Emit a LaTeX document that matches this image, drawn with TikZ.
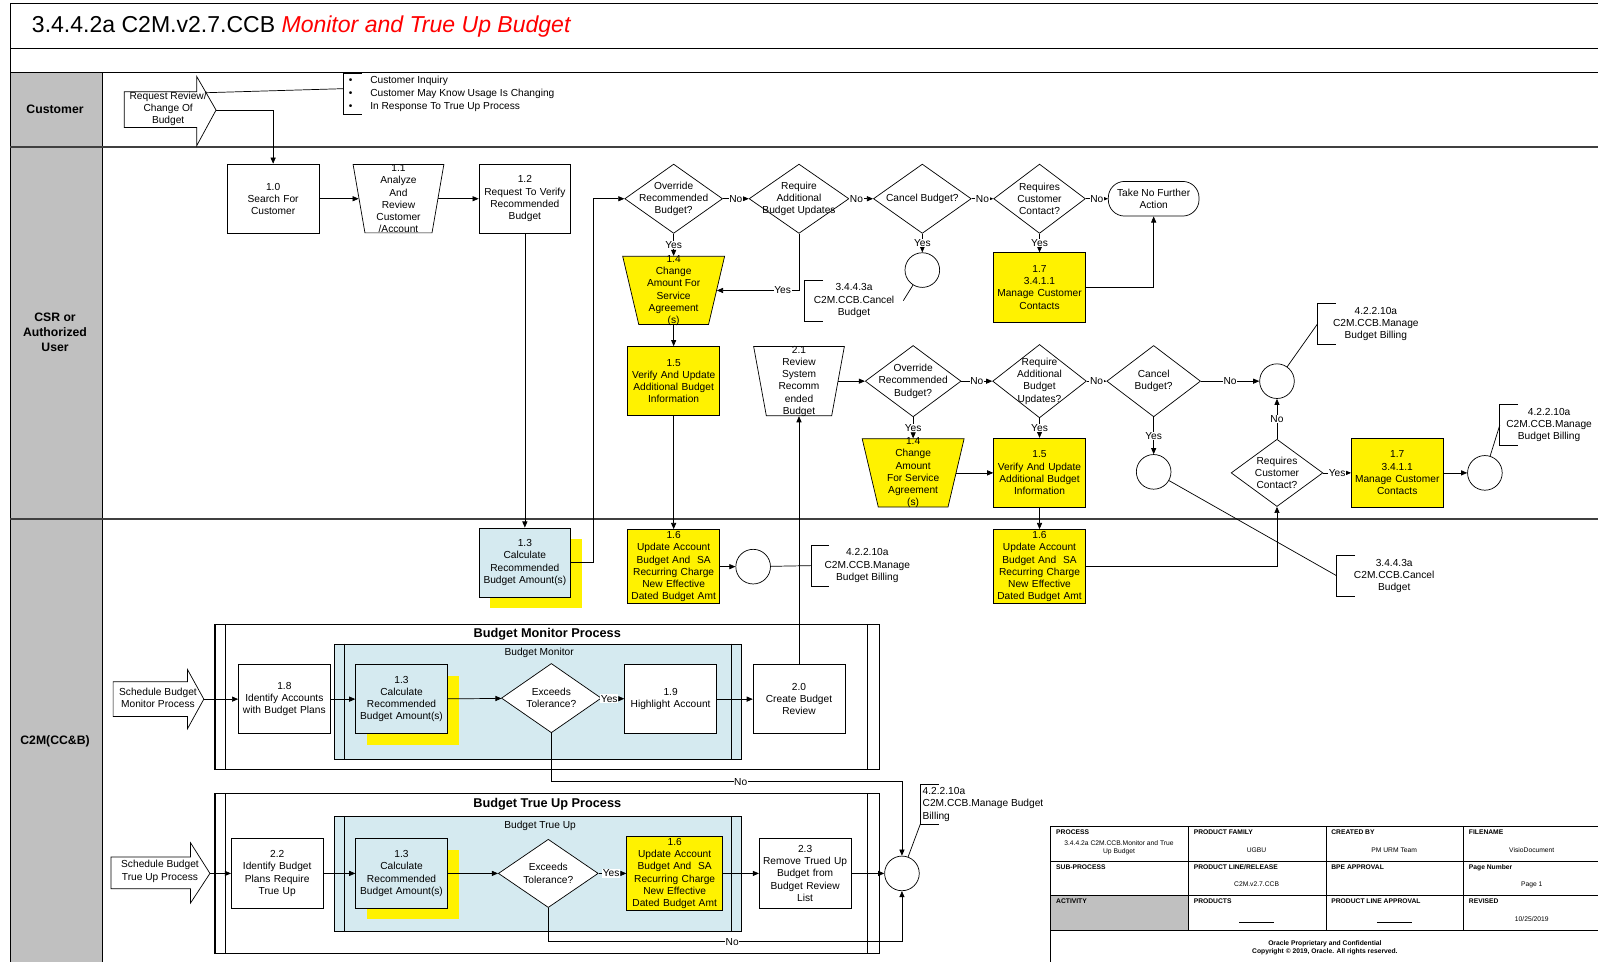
\documentclass[tikz,border=0pt]{standalone}
\usepackage{fontspec}
\setmainfont{Liberation Sans}
\usepackage{tikz}
\usetikzlibrary{shapes.geometric, arrows.meta, shadows, positioning}

\definecolor{lanegray}{RGB}{192,192,192}
\definecolor{sysblue}{RGB}{213,234,240}
\definecolor{sepgray}{RGB}{64,64,64}

\newcommand{\bodyfont}{\fontsize{10}{12}\selectfont}
\newcommand{\tbfont}{\fontsize{6.6}{8}\selectfont}
\newcommand{\notebracket}[1]{\draw ([xshift=18pt]#1.north west) -- (#1.north west) -- (#1.south west) -- ([xshift=18pt]#1.south west);}

\tikzstyle{process} = [
  rectangle, draw, fill=white,
  minimum width=90, minimum height=68,
  text width=88, align=center, inner sep=1pt, font=\bodyfont
]
\tikzstyle{hilite} = [process, fill=yellow]
\tikzstyle{system} = [
  process, fill=sysblue,
  drop shadow={fill=yellow, opacity=1, shadow xshift=11pt, shadow yshift=-11pt}
]
\tikzstyle{decision} = [diamond, draw, fill=white, minimum width=96, minimum height=68, inner sep=1pt]
\tikzstyle{manual} = [
  trapezium, trapezium stretches=true, shape border rotate=180,
  trapezium angle=77, draw, fill=white,
  minimum width=100, minimum height=67, inner sep=1pt
]
\tikzstyle{intext} = [align=center, font=\bodyfont, inner sep=0pt]
\tikzstyle{offpage} = [circle, draw, fill=white, minimum size=34, inner sep=0pt]
\tikzstyle{terminal} = [
  rectangle, rounded corners=16, draw, fill=white,
  minimum width=89, minimum height=34, align=center, font=\bodyfont, inner sep=1pt
]
\tikzstyle{note} = [align=center, font=\bodyfont, minimum height=40, inner sep=0pt]
\tikzstyle{conn} = [-{Triangle[length=6pt, width=5pt]}]
\tikzstyle{lbl} = [fill=white, inner sep=0.6pt, font=\bodyfont]
\tikzstyle{lane} = [font=\fontsize{12}{14.5}\selectfont\bfseries, align=center]
\tikzstyle{group} = [draw, line width=1.1pt, inner sep=0pt]
\tikzstyle{tbhead} = [anchor=north west, font=\tbfont\bfseries, inner sep=0pt]
\tikzstyle{tbval} = [font=\tbfont, align=center, inner sep=0pt]

\begin{document}
\begin{tikzpicture}[x=1pt, y=-1pt, line width=0.7pt]

  \useasboundingbox (0,0) rectangle (1568,943);
  \fill[white] (0,0) rectangle (1568,943);
  \clip (0,0) rectangle (1568,943);

  % Frame and lanes
  \fill[lanegray] (10,71) rectangle (100,950);
  \draw (10,3) -- (1580,3);
  \draw (10,3) -- (10,950);
  \draw (10,47) -- (1580,47);
  \draw (10,71) -- (1580,71);
  \draw (100,71) -- (100,950);
  \draw[sepgray, line width=2pt] (10,144) -- (1580,144);
  \draw[sepgray, line width=2pt] (10,509) -- (1580,509);

  \node[anchor=west, inner sep=0pt, font=\fontsize{22.6}{26}\selectfont] (title) at (31,26)
    {3.4.4.2a C2M.v2.7.CCB \textcolor{red}{\itshape Monitor and True Up Budget}};

  \node[lane] (lcust) at (54,107) {Customer};
  \node[lane] (lcsr) at (54,326) {CSR or\\Authorized\\User};
  \node[lane] (lc2m) at (54,727) {C2M(CC\&B)};

  % Customer lane
  \draw[fill=white] (122,90) -- (193,90) -- (193,75) -- (212,108) -- (193,143) -- (193,125) -- (122,125) -- cycle;
  \node[intext] (req) at (165,107) {Request Review/\\Change Of\\Budget};
  \coordinate (reqtip) at (212,108);
  \coordinate (reqedge) at (201,91);

  \node[anchor=west, align=left, inner xsep=5pt, inner ysep=0pt, minimum height=40,
        font=\fontsize{10}{12.5}\selectfont] (cnote) at (337,92)
    {\makebox[21pt][l]{\textbullet}Customer Inquiry\\
     \makebox[21pt][l]{\textbullet}Customer May Know Usage Is Changing\\
     \makebox[21pt][l]{\textbullet}In Response To True Up Process};
  \notebracket{cnote}
  \draw (reqedge) -- ([yshift=5pt]cnote.west);

  % CSR lane, first row
  \node[process] (s10) at (268,195) {1.0\\Search For\\Customer};
  \node[manual, minimum width=89, trapezium angle=80,
        label={[intext]center:1.1\\Analyze\\And\\Review\\Customer\\/Account}] (s11) at (391,195) {};
  \node[process] (s12) at (515,195) {1.2\\Request To Verify\\Recommended\\Budget};

  \node[decision, label={[intext]center:Override\\Recommended\\Budget?}] (ovr1) at (661,195) {};
  \node[decision, minimum width=98, label={[intext]center:Require\\Additional\\Budget Updates}] (add1) at (784,195) {};
  \node[decision, label={[intext]center:Cancel Budget?}] (can1) at (905,195) {};
  \node[decision, minimum width=90, label={[intext]center:Requires\\Customer\\Contact?}] (rcc1) at (1020,195) {};
  \node[terminal] (nfa) at (1132,195) {Take No Further\\Action};

  \node[manual, fill=yellow,
        label={[intext]center:1.4\\Change\\Amount For\\Service\\Agreement\\(s)}] (s14a) at (661,285) {};
  \node[offpage] (c1) at (905,265) {};
  \node[note, minimum width=96] (ncan1) at (838,295) {3.4.4.3a\\C2M.CCB.Cancel\\Budget};
  \notebracket{ncan1}
  \node[hilite] (s17a) at (1020,282) {1.7\\3.4.1.1\\Manage Customer\\Contacts};

  % CSR lane, second row
  \node[hilite] (s15a) at (661,374) {1.5\\Verify And Update\\Additional Budget\\Information};
  \node[manual, minimum width=89, minimum height=68, trapezium angle=79,
        label={[intext]center:2.1\\Review\\System\\Recomm\\ended\\Budget}] (s21) at (784,374) {};
  \node[decision, minimum width=94, minimum height=70,
        label={[intext]center:Override\\Recommended\\Budget?}] (ovr2) at (896,374) {};
  \node[decision, minimum width=92, minimum height=72,
        label={[intext]center:Require\\Additional\\Budget\\Updates?}] (add2) at (1020,374) {};
  \node[decision, minimum width=92, minimum height=70,
        label={[intext]center:Cancel\\Budget?}] (can2) at (1132,374) {};
  \node[offpage] (c3) at (1253,374) {};
  \node[note, minimum width=114] (nbill2) at (1350,318) {4.2.2.10a\\C2M.CCB.Manage\\Budget Billing};
  \notebracket{nbill2}

  \node[manual, fill=yellow,
        label={[intext]center:1.4\\Change\\Amount\\For Service\\Agreement\\(s)}] (s14b) at (896,464) {};
  \node[hilite] (s15b) at (1020,464) {1.5\\Verify And Update\\Additional Budget\\Information};
  \node[offpage] (c4) at (1132,463) {};
  \node[decision, minimum width=90, minimum height=66,
        label={[intext]center:Requires\\Customer\\Contact?}] (rcc2) at (1253,464) {};
  \node[hilite] (s17b) at (1371,464) {1.7\\3.4.1.1\\Manage Customer\\Contacts};
  \node[offpage] (c5) at (1457,464) {};
  \node[note, minimum width=96] (nbill3) at (1520,417) {4.2.2.10a\\C2M.CCB.Manage\\Budget Billing};
  \notebracket{nbill3}

  % C2M lane, top row
  \node[system] (s13a) at (515,552) {1.3\\Calculate\\Recommended\\Budget Amount(s)};
  \node[hilite, minimum height=73] (s16a) at (661,556)
    {1.6\\Update Account\\Budget And\ \ SA\\Recurring Charge\\New Effective\\Dated Budget Amt};
  \node[offpage] (c2) at (739,556) {};
  \node[note, minimum width=110] (nbill1) at (851,555) {4.2.2.10a\\C2M.CCB.Manage\\Budget Billing};
  \notebracket{nbill1}
  \node[hilite, minimum height=73] (s16b) at (1020,556)
    {1.6\\Update Account\\Budget And\ \ SA\\Recurring Charge\\New Effective\\Dated Budget Amt};
  \node[note, minimum width=112] (ncan2) at (1368,565) {3.4.4.3a\\C2M.CCB.Cancel\\Budget};
  \notebracket{ncan2}

  % Budget Monitor Process
  \node[group, minimum width=652, minimum height=142] (mproc) at (537,684) {};
  \draw[line width=1.1pt] ([xshift=11pt]mproc.north west) -- ([xshift=11pt]mproc.south west);
  \draw[line width=1.1pt] ([xshift=-12pt]mproc.north east) -- ([xshift=-12pt]mproc.south east);
  \node[font=\fontsize{12.5}{14}\selectfont\bfseries] (mproct) at (537,622) {Budget Monitor Process};
  \node[group, fill=sysblue, minimum width=400, minimum height=113] (mbox) at (528,688.5) {};
  \draw[line width=1.1pt] ([xshift=11pt]mbox.north west) -- ([xshift=11pt]mbox.south west);
  \draw[line width=1.1pt] ([xshift=-11pt]mbox.north east) -- ([xshift=-11pt]mbox.south east);
  \node[font=\bodyfont] (mboxt) at (529,641) {Budget Monitor};

  \draw[fill=white] (111,669) -- (184,669) -- (184,657) -- (200,686) -- (184,715) -- (184,703) -- (111,703) -- cycle;
  \node[intext] (sched1) at (155,685) {Schedule Budget\\Monitor Process};
  \coordinate (sched1tip) at (200,686);
  \node[process] (s18) at (279,686) {1.8\\Identify Accounts\\with Budget Plans};
  \node[system] (s13b) at (394,686) {1.3\\Calculate\\Recommended\\Budget Amount(s)};
  \node[decision, minimum width=98, label={[intext]center:Exceeds\\Tolerance?}] (exc1) at (541,685) {};
  \node[process] (s19) at (658,686) {1.9\\Highlight Account};
  \node[process] (s20) at (784,686) {2.0\\Create Budget\\Review};
  \coordinate (mno) at (885,767);

  % Budget True Up Process
  \node[group, minimum width=652, minimum height=157] (tproc) at (537,857.5) {};
  \draw[line width=1.1pt] ([xshift=11pt]tproc.north west) -- ([xshift=11pt]tproc.south west);
  \draw[line width=1.1pt] ([xshift=-12pt]tproc.north east) -- ([xshift=-12pt]tproc.south east);
  \node[font=\fontsize{12.5}{14}\selectfont\bfseries] (tproct) at (537,789) {Budget True Up Process};
  \node[group, fill=sysblue, minimum width=400, minimum height=113] (tbox) at (528,857.5) {};
  \draw[line width=1.1pt] ([xshift=11pt]tbox.north west) -- ([xshift=11pt]tbox.south west);
  \draw[line width=1.1pt] ([xshift=-11pt]tbox.north east) -- ([xshift=-11pt]tbox.south east);
  \node[font=\bodyfont] (tboxt) at (530,810) {Budget True Up};

  \draw[fill=white] (109,841) -- (187,841) -- (187,827) -- (206,857) -- (187,886) -- (187,872) -- (109,872) -- cycle;
  \node[intext] (sched2) at (157,855) {Schedule Budget\\True Up Process};
  \coordinate (sched2tip) at (206,857);
  \node[process] (s22) at (272,857) {2.2\\Identify Budget\\Plans Require\\True Up};
  \node[system] (s13c) at (394,857) {1.3\\Calculate\\Recommended\\Budget Amount(s)};
  \node[decision, minimum width=98, minimum height=67, label={[intext]center:Exceeds\\Tolerance?}] (exc2) at (538,857) {};
  \node[hilite, minimum width=94, minimum height=73] (s16c) at (662,857)
    {1.6\\Update Account\\Budget And\ \ SA\\Recurring Charge\\New Effective\\Dated Budget Amt};
  \node[process] (s23) at (790,857) {2.3\\Remove Trued Up\\Budget from\\Budget Review\\List};
  \node[offpage] (endc) at (885,857) {};
  \coordinate (tno) at (885,924);
  \node[anchor=north west, align=left, font=\bodyfont, inner xsep=2pt, inner ysep=0pt,
        minimum height=38] (nbill4) at (903,770) {4.2.2.10a\\C2M.CCB.Manage Budget\\Billing};
  \notebracket{nbill4}

  % Connections
  \draw[conn] (reqtip) -| (s10);
  \draw[conn] (s10) -- (s11);
  \draw[conn] (s11) -- (s12);
  \draw[conn] (s12) -- (s13a);
  \draw[conn] (s13a.east) -- ++(22,0) |- (ovr1);
  \draw[conn] (ovr1) -- node[lbl] {No} (add1);
  \draw[conn] (add1) -- node[lbl, pos=0.3] {No} (can1);
  \draw[conn] (can1) -- node[lbl] {No} (rcc1);
  \draw[conn] (rcc1) -- node[lbl] {No} (nfa);
  \draw[conn] (ovr1) -- node[lbl] {Yes} (s14a);
  \draw[conn] (add1) |- node[lbl, pos=0.6] {Yes} (s14a);
  \draw[conn] (can1) -- node[lbl] {Yes} (c1);
  \draw[conn] (rcc1) -- node[lbl] {Yes} (s17a);
  \draw[conn] (s17a) -| (nfa);
  \draw (c1) -- (ncan1.east);

  \draw[conn] (s14a) -- (s15a);
  \draw[conn] (s15a) -- (s16a);
  \draw[conn] (s16a) -- (c2);
  \draw (c2) -- (nbill1.west);

  \draw[conn] (s20) -- (s21);
  \draw[conn] (s21) -- (ovr2);
  \draw[conn] (ovr2) -- node[lbl] {No} (add2);
  \draw[conn] (add2) -- node[lbl] {No} (can2);
  \draw[conn] (can2) -- node[lbl] {No} (c3);
  \draw[conn] (ovr2) -- node[lbl] {Yes} (s14b);
  \draw[conn] (add2) -- node[lbl] {Yes} (s15b);
  \draw[conn] (s14b) -- (s15b);
  \draw[conn] (can2) -- node[lbl] {Yes} (c4);
  \draw[conn] (s15b) -- (s16b);
  \draw[conn] (s16b) -| (rcc2);
  \draw[conn] (rcc2) -- node[lbl] {No} (c3);
  \draw[conn] (rcc2) -- node[lbl] {Yes} (s17b);
  \draw[conn] (s17b) -- (c5);
  \draw (c3) -- (nbill2.west);
  \draw (c5) -- (nbill3.west);
  \draw (c4) -- (ncan2.west);

  \draw[conn] (sched1tip) -- (s18);
  \draw[conn] (s18) -- (s13b);
  \draw[conn] (s13b) -- (exc1);
  \draw[conn] (exc1) -- node[lbl, pos=0.35] {Yes} (s19);
  \draw[conn] (s19) -- (s20);
  \draw[conn] (exc1) |- node[lbl, pos=0.77] {No} (mno) -- (endc);

  \draw[conn] (sched2tip) -- (s22);
  \draw[conn] (s22) -- (s13c);
  \draw[conn] (s13c) -- (exc2);
  \draw[conn] (exc2) -- node[lbl, pos=0.45] {Yes} (s16c);
  \draw[conn] (s16c) -- (s23);
  \draw[conn] (s23) -- (endc);
  \draw[conn] (exc2) |- node[lbl, pos=0.76] {No} (tno) -- (endc);
  \draw (endc) -- (nbill4.south west);

  % Title block
  \draw[fill=white] (1031,811) rectangle (1580,950);
  \fill[lanegray] (1031,879) rectangle (1166,913);
  \draw (1166,811) -- (1166,913);
  \draw (1301,811) -- (1301,913);
  \draw (1436,811) -- (1436,913);
  \draw (1031,845) -- (1580,845);
  \draw (1031,879) -- (1580,879);
  \draw (1031,913) -- (1580,913);

  \node[tbhead] (hproc) at (1036,814) {PROCESS};
  \node[tbhead] (hfam) at (1171,814) {PRODUCT FAMILY};
  \node[tbhead] (hby) at (1306,814) {CREATED BY};
  \node[tbhead] (hfile) at (1441,814) {FILENAME};
  \node[tbval] (vproc) at (1098,832) {3.4.4.2a C2M.CCB.Monitor and True\\Up Budget};
  \node[tbval] (vfam) at (1233,834) {UGBU};
  \node[tbval] (vby) at (1368,834) {PM URM Team};
  \node[tbval] (vfile) at (1503,834) {VisioDocument};

  \node[tbhead] (hsub) at (1036,848) {SUB-PROCESS};
  \node[tbhead] (hline) at (1171,848) {PRODUCT LINE/RELEASE};
  \node[tbhead] (hbpe) at (1306,848) {BPE APPROVAL};
  \node[tbhead] (hpage) at (1441,848) {Page Number};
  \node[tbval] (vline) at (1233,868) {C2M.v2.7.CCB};
  \node[tbval] (vpage) at (1503,868) {Page 1};

  \node[tbhead] (hact) at (1036,882) {ACTIVITY};
  \node[tbhead] (hprod) at (1171,882) {PRODUCTS};
  \node[tbhead] (hpla) at (1306,882) {PRODUCT LINE APPROVAL};
  \node[tbhead] (hrev) at (1441,882) {REVISED};
  \node[tbval] (vprod) at (1233,905) {\rule{34pt}{0.4pt}};
  \node[tbval] (vpla) at (1368,905) {\rule{34pt}{0.4pt}};
  \node[tbval] (vrev) at (1503,902) {10/25/2019};

  \node[tbval, font=\tbfont\bfseries] (foot) at (1300,930)
    {Oracle Proprietary and Confidential\\Copyright \textcopyright{} 2019, Oracle. All rights reserved.};

\end{tikzpicture}
\end{document}
